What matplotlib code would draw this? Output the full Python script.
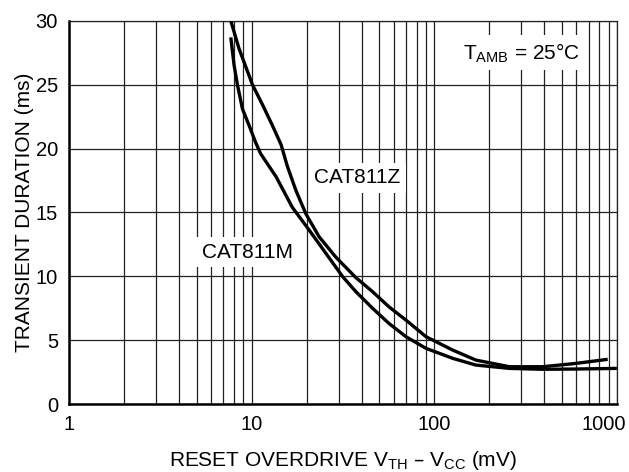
import matplotlib
matplotlib.use("Agg")
import matplotlib.pyplot as plt
import matplotlib.transforms as mtransforms
from matplotlib.ticker import FixedLocator, LogLocator, NullFormatter

plt.rcParams["font.family"] = ["Liberation Sans", "DejaVu Sans"]

# CAT811M: overdrive (mV) vs transient duration (ms)
m_x = [7.69, 8.02, 8.36, 8.91, 9.69, 10.5, 11.2, 13.6, 16.7, 20.7, 25.5, 31.4, 37.2, 45.9,
       56.6, 70.0, 90.1, 126, 169, 258, 392, 597, 1000]
m_y = [28.7, 26.5, 25.0, 23.1, 21.8, 20.5, 19.6, 17.8, 15.4, 13.6, 11.8, 10.0, 8.8, 7.5,
       6.3, 5.27, 4.36, 3.58, 3.05, 2.79, 2.72, 2.74, 2.79]

# CAT811Z
z_x = [7.69, 8.54, 9.69, 10.1, 11.5, 13.0, 14.5, 15.7, 17.5, 19.8, 23.4, 28.9, 37.2, 45.9,
       56.6, 70.0, 90.1, 126, 169, 258, 392, 597, 891]
z_y = [30.0, 27.8, 25.7, 25.0, 23.4, 21.8, 20.3, 18.6, 16.7, 14.9, 13.1, 11.5, 9.9, 8.8,
       7.6, 6.57, 5.27, 4.23, 3.44, 2.92, 2.92, 3.18, 3.50]

x_ticks = [1, 10, 100, 1000]
y_ticks = [0, 5, 10, 15, 20, 25, 30]

fig = plt.figure(figsize=(6.29, 4.72), dpi=100)
ax = fig.add_axes([0.1097, 0.144, 0.871, 0.812])

ax.set_xscale("log")
ax.set_xlim(1, 1000)
ax.set_ylim(0, 30)

ax.xaxis.set_major_locator(FixedLocator(x_ticks))
ax.set_xticklabels([str(t) for t in x_ticks])
ax.xaxis.set_minor_locator(LogLocator(base=10, subs=range(2, 10)))
ax.xaxis.set_minor_formatter(NullFormatter())
ax.set_yticks(y_ticks)

ax.grid(True, which="both", axis="x", color="#222222", linewidth=0.9)
ax.grid(True, which="major", axis="y", color="#222222", linewidth=0.9)
ax.tick_params(which="both", length=0, labelsize=14.5, colors="black")
ax.tick_params(axis="x", pad=8)
ax.tick_params(axis="y", pad=8)

for side in ["top", "right"]:
    ax.spines[side].set_linewidth(0.9)
    ax.spines[side].set_color("#222222")
for side in ["left", "bottom"]:
    ax.spines[side].set_linewidth(1.8)

ax.plot(m_x, m_y, color="black", linewidth=2.4, solid_capstyle="butt",
        solid_joinstyle="round", zorder=3)
ax.plot(z_x, z_y, color="black", linewidth=2.4, solid_capstyle="butt",
        solid_joinstyle="round", zorder=3)

box = dict(facecolor="white", edgecolor="none", pad=4)
ax.text(22.0, 17.7, "CAT811Z", fontsize=15, va="center", ha="left", bbox=box, zorder=4)
ax.text(5.35, 11.9, "CAT811M", fontsize=15, va="center", ha="left", bbox=box, zorder=4)
ax.text(143, 27.5, r"T$_{\mathregular{AMB}}$ = 25°C", fontsize=15, va="center", ha="left",
        bbox=box, zorder=4)

ax.set_ylabel("TRANSIENT DURATION (ms)", fontsize=15, labelpad=1)
ax.set_xlabel(r"RESET OVERDRIVE V$_{\mathregular{TH}}$ – V$_{\mathregular{CC}}$ (mV)",
              fontsize=15, labelpad=11)

# the last tick label sits a little left of the axis end in the reference
shift = mtransforms.ScaledTranslation(-0.13, 0, fig.dpi_scale_trans)
last = ax.get_xticklabels()[-1]
last.set_transform(last.get_transform() + shift)

fig.savefig("out.png", dpi=100)
